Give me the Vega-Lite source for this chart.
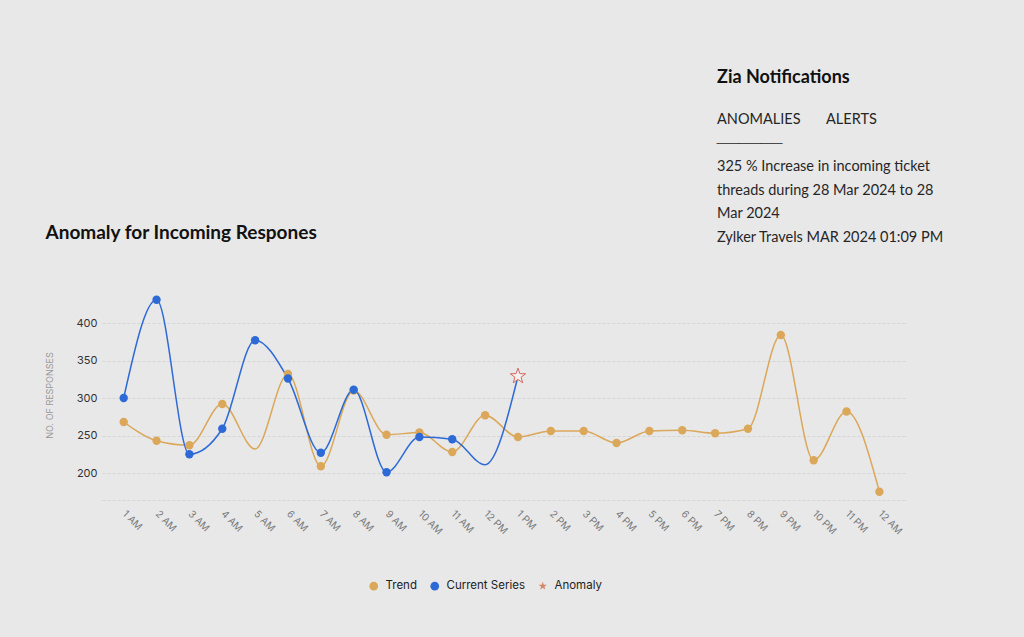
{
  "$schema": "https://vega.github.io/schema/vega-lite/v6.json",
  "autosize": {"type": "none"},
  "width": 805,
  "height": 210,
  "padding": {"left": 102, "top": 290, "right": 117, "bottom": 137},
  "background": "#e8e8e9",
  "title": {
    "text": "Zia Notifications",
    "subtitle": ["ANOMALIES\u00a0\u00a0\u00a0\u00a0\u00a0\u00a0\u00a0ALERTS", "\u2500\u2500\u2500\u2500\u2500\u2500", "325 % Increase in incoming ticket", "threads during 28 Mar 2024 to 28", "Mar 2024", "Zylker Travels MAR 2024 01:09 PM"],
    "anchor": "start",
    "frame": "group",
    "dx": 615,
    "offset": -21,
    "font": "Lato",
    "fontSize": 18,
    "fontWeight": "bold",
    "color": "#111111",
    "subtitleFont": "Lato",
    "subtitleFontSize": 14.5,
    "subtitleColor": "#262626",
    "subtitleLineHeight": 23.5,
    "subtitlePadding": 26
  },
  "data": {
    "values": [
      {"hour": "1 AM", "series": "Trend", "value": 268},
      {"hour": "2 AM", "series": "Trend", "value": 243},
      {"hour": "3 AM", "series": "Trend", "value": 237},
      {"hour": "4 AM", "series": "Trend", "value": 292},
      {"hour": "5 AM", "series": "Trend", "value": 232},
      {"hour": "6 AM", "series": "Trend", "value": 332},
      {"hour": "7 AM", "series": "Trend", "value": 209},
      {"hour": "8 AM", "series": "Trend", "value": 310},
      {"hour": "9 AM", "series": "Trend", "value": 251},
      {"hour": "10 AM", "series": "Trend", "value": 254},
      {"hour": "11 AM", "series": "Trend", "value": 228},
      {"hour": "12 PM", "series": "Trend", "value": 277},
      {"hour": "1 PM", "series": "Trend", "value": 248},
      {"hour": "2 PM", "series": "Trend", "value": 256},
      {"hour": "3 PM", "series": "Trend", "value": 256},
      {"hour": "4 PM", "series": "Trend", "value": 240},
      {"hour": "5 PM", "series": "Trend", "value": 256},
      {"hour": "6 PM", "series": "Trend", "value": 257},
      {"hour": "7 PM", "series": "Trend", "value": 253},
      {"hour": "8 PM", "series": "Trend", "value": 259},
      {"hour": "9 PM", "series": "Trend", "value": 384},
      {"hour": "10 PM", "series": "Trend", "value": 217},
      {"hour": "11 PM", "series": "Trend", "value": 282},
      {"hour": "12 AM", "series": "Trend", "value": 175},
      {"hour": "1 AM", "series": "Current Series", "value": 300},
      {"hour": "2 AM", "series": "Current Series", "value": 431},
      {"hour": "3 AM", "series": "Current Series", "value": 225},
      {"hour": "4 AM", "series": "Current Series", "value": 259},
      {"hour": "5 AM", "series": "Current Series", "value": 377},
      {"hour": "6 AM", "series": "Current Series", "value": 326},
      {"hour": "7 AM", "series": "Current Series", "value": 227},
      {"hour": "8 AM", "series": "Current Series", "value": 311},
      {"hour": "9 AM", "series": "Current Series", "value": 201},
      {"hour": "10 AM", "series": "Current Series", "value": 248},
      {"hour": "11 AM", "series": "Current Series", "value": 245},
      {"hour": "12 PM", "series": "Current Series", "value": 211},
      {"hour": "1 PM", "series": "Current Series", "value": 329, "anomaly": true}
    ]
  },
  "transform": [
    {"calculate": "datum.anomaly ? 'Anomaly' : datum.series", "as": "kind"}
  ],
  "encoding": {
    "x": {
      "field": "hour",
      "type": "ordinal",
      "sort": ["1 AM", "2 AM", "3 AM", "4 AM", "5 AM", "6 AM", "7 AM", "8 AM", "9 AM", "10 AM", "11 AM", "12 PM", "1 PM", "2 PM", "3 PM", "4 PM", "5 PM", "6 PM", "7 PM", "8 PM", "9 PM", "10 PM", "11 PM", "12 AM"],
      "scale": {"type": "point", "padding": 0.75, "align": 0.44},
      "axis": {
        "title": "Anomaly for Incoming Respones",
        "titleX": -57,
        "titleY": -262,
        "titleAlign": "left",
        "titleBaseline": "alphabetic",
        "titleFont": "Lato",
        "titleFontSize": 19,
        "titleFontWeight": "bold",
        "titleColor": "#111111",
        "labelAngle": 45,
        "labelAlign": "left",
        "labelBaseline": "middle",
        "labelPadding": 12,
        "labelColor": "#7a7a7a",
        "labelFont": "Inter",
        "labelFontSize": 10,
        "ticks": false,
        "grid": false,
        "domainColor": "#d5d5d5",
        "domainDash": [3, 2]
      }
    },
    "y": {
      "field": "value",
      "type": "quantitative",
      "scale": {"domain": [164, 444], "nice": false, "zero": false},
      "axis": {
        "title": "NO. OF RESPONSES",
        "titleFont": "Inter",
        "titleFontSize": 9,
        "titleFontWeight": "normal",
        "titleColor": "#9a9a9a",
        "titlePadding": 22,
        "values": [200, 250, 300, 350, 400],
        "labelColor": "#333333",
        "labelFont": "Inter",
        "labelFontSize": 11,
        "labelPadding": 5,
        "ticks": false,
        "domain": false,
        "gridColor": "#d5d5d5",
        "gridDash": [3, 2]
      }
    }
  },
  "layer": [
    {
      "mark": {"type": "line", "interpolate": "monotone", "strokeWidth": 1.5},
      "encoding": {
        "stroke": {
          "field": "series",
          "type": "nominal",
          "scale": {"domain": ["Trend", "Current Series"], "range": ["#dba758", "#2d6ad6"]},
          "legend": null
        }
      }
    },
    {
      "transform": [
        {"filter": "!datum.anomaly && !((datum.series == 'Trend' && datum.hour == '5 AM') || (datum.series == 'Current Series' && datum.hour == '12 PM'))"}
      ],
      "mark": {"type": "point", "filled": true, "opacity": 1, "size": 70},
      "encoding": {
        "color": {
          "field": "kind",
          "type": "nominal",
          "scale": {"domain": ["Trend", "Current Series", "Anomaly"], "range": ["#dba758", "#2d6ad6", "#d08a66"]},
          "legend": {
            "title": null,
            "orient": "none",
            "legendX": 266,
            "legendY": 290,
            "direction": "horizontal",
            "labelFont": "Inter",
            "labelFontSize": 11.5,
            "labelColor": "#222222",
            "symbolSize": 75,
            "columnPadding": 12,
            "labelOffset": 6,
            "encode": {
              "symbols": {
                "update": {
                  "fill": [{"test": "datum.value === 'Anomaly'", "value": "transparent"}, {"scale": "color", "field": "value"}],
                  "stroke": [{"test": "datum.value === 'Anomaly'", "value": "#d08a66"}, {"scale": "color", "field": "value"}],
                  "strokeWidth": {"value": 1}
                }
              }
            }
          }
        },
        "shape": {
          "field": "kind",
          "type": "nominal",
          "scale": {"domain": ["Trend", "Current Series", "Anomaly"], "range": ["circle", "circle", "M0,-1L0.235,-0.324L0.951,-0.309L0.38,0.124L0.588,0.809L0,0.4L-0.588,0.809L-0.38,0.124L-0.951,-0.309L-0.235,-0.324Z"]},
          "legend": {"title": null}
        }
      }
    },
    {
      "transform": [{"filter": "datum.anomaly"}],
      "mark": {
        "type": "point",
        "shape": "M0,-1L0.235,-0.324L0.951,-0.309L0.38,0.124L0.588,0.809L0,0.4L-0.588,0.809L-0.38,0.124L-0.951,-0.309L-0.235,-0.324Z",
        "size": 260,
        "fill": "#f4f0f0",
        "stroke": "#d4675c",
        "strokeWidth": 1,
        "opacity": 1,
        "filled": true
      },
      "encoding": {}
    }
  ],
  "config": {
    "view": {"stroke": null}
  }
}
